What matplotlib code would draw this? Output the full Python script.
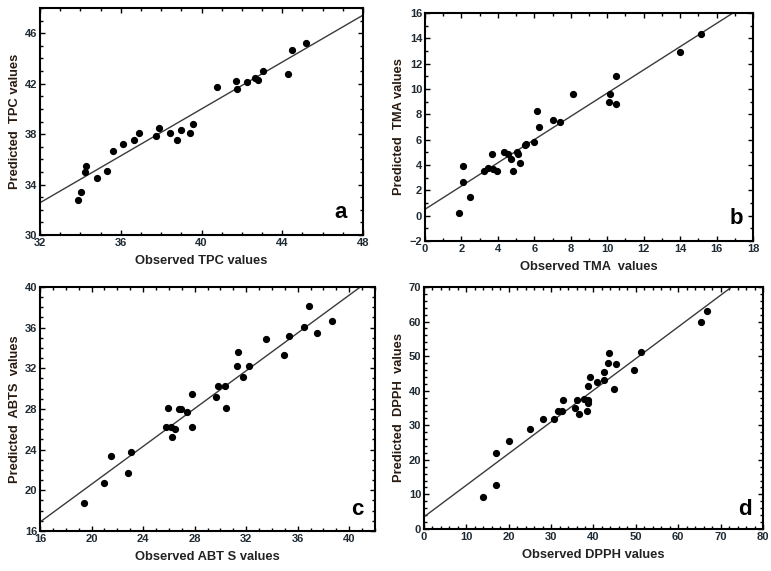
import numpy as np
import matplotlib
matplotlib.use("Agg")
import matplotlib.pyplot as plt
from matplotlib.ticker import MultipleLocator, FixedLocator

plt.rcParams["font.family"] = ["Liberation Sans", "DejaVu Sans"]
plt.rcParams["font.weight"] = "bold"

# ---- data ----
tpc_obs = [33.9, 34.05, 34.25, 34.27, 34.8, 35.3, 35.6, 36.1, 36.65, 36.9, 37.76, 37.87, 38.45,
           38.76, 38.99, 39.44, 39.56, 40.76, 41.7, 41.75, 42.26, 42.64, 42.8, 43.06, 44.3, 44.5, 45.15]
tpc_pred = [32.8, 33.4, 35.0, 35.5, 34.5, 35.05, 36.7, 37.2, 37.5, 38.1, 37.86, 38.5, 38.1,
            37.5, 38.3, 38.1, 38.8, 41.7, 42.25, 41.56, 42.14, 42.46, 42.28, 43.0, 42.8, 44.7, 45.26]

tma_obs = [1.86, 2.08, 2.08, 2.47, 3.24, 3.47, 3.69, 3.75, 3.97, 4.31, 4.53, 4.7, 4.81, 5.06, 5.08,
           5.21, 5.48, 5.57, 6.01, 6.14, 6.25, 7.04, 7.42, 8.14, 10.09, 10.13, 10.51, 10.51, 13.97, 15.17]
tma_pred = [0.17, 3.95, 2.63, 1.49, 3.53, 3.74, 4.85, 3.66, 3.53, 5.01, 4.85, 4.46, 3.5, 5.01, 4.85,
            4.14, 5.57, 5.67, 5.78, 8.29, 7.02, 7.55, 7.39, 9.64, 8.95, 9.64, 10.99, 8.82, 12.89, 14.35]

abts_obs = [19.38, 20.93, 21.52, 22.86, 23.09, 25.78, 25.9, 26.16, 26.21, 26.47, 26.78, 26.94, 27.43,
            27.79, 27.79, 29.62, 29.85, 30.37, 30.42, 31.32, 31.37, 31.73, 32.2, 33.54, 34.93, 35.32,
            36.45, 36.84, 37.49, 38.7]
abts_pred = [18.76, 20.67, 23.4, 21.69, 23.73, 26.26, 28.06, 26.26, 25.27, 26.03, 28.03, 28.03, 27.7,
             29.51, 26.26, 29.18, 30.3, 30.27, 28.06, 32.2, 33.65, 31.15, 32.2, 34.9, 33.3, 35.2,
             36.09, 38.09, 35.43, 36.68]

dpph_obs = [13.95, 17.1, 17.1, 20.1, 25.1, 28.2, 30.65, 31.6, 32.6, 32.8, 35.6, 36.2, 36.6, 37.8, 38.4,
            38.6, 38.7, 38.8, 39.24, 40.9, 42.5, 42.6, 43.4, 43.7, 44.9, 45.3, 49.6, 51.1, 65.4, 66.8]
dpph_pred = [9.26, 12.7, 21.99, 25.46, 28.8, 31.9, 31.8, 34.2, 34.2, 37.2, 34.9, 37.2, 33.4, 37.7, 34.2,
             37.3, 36.5, 41.3, 43.9, 42.4, 43.0, 45.5, 48.0, 51.0, 40.4, 47.6, 46.1, 51.1, 59.9, 63.1]

# fitted line (slope, intercept) as drawn in each panel
fit_tpc = (0.93, 2.8)
fit_tma = (0.917, 0.5)
fit_abts = (0.93, 2.0)
fit_dpph = (0.916, 3.5)

# labelled tick values
tpc_xticks = [32, 36, 40, 44, 48]
tpc_yticks = [30, 34, 38, 42, 46]
tma_xticks = list(range(0, 19, 2))
tma_yticks = list(range(-2, 17, 2))
abts_xticks = [16, 20, 24, 28, 32, 36, 40]
abts_yticks = [16, 20, 24, 28, 32, 36, 40]
dpph_xticks = list(range(0, 81, 10))
dpph_yticks = list(range(0, 71, 10))

panels = [
    ([0.0519, 0.5884, 0.419, 0.3975], tpc_obs, tpc_pred, fit_tpc, (32, 48), (30, 48),
     tpc_xticks, tpc_yticks, 1, 1, "Observed TPC values", "Predicted  TPC values", "a", (0.93, 0.10)),
    ([0.5512, 0.578, 0.4254, 0.3993], tma_obs, tma_pred, fit_tma, (0, 18), (-2, 16),
     tma_xticks, tma_yticks, 1, 1, "Observed TMA  values", "Predicted  TMA values", "b", (0.95, 0.10)),
    ([0.0519, 0.0701, 0.4345, 0.4273], abts_obs, abts_pred, fit_abts, (16, 42), (16, 40),
     abts_xticks, abts_yticks, 1, 1, "Observed ABT S values", "Predicted  ABTS  values", "c", (0.946, 0.086)),
    ([0.5499, 0.0736, 0.4397, 0.4238], dpph_obs, dpph_pred, fit_dpph, (0, 80), (0, 70),
     dpph_xticks, dpph_yticks, 2, 2, "Observed DPPH values", "Predicted  DPPH  values", "d", (0.947, 0.08)),
]

fig = plt.figure(figsize=(7.71, 5.71), dpi=100)
for rect, xs, ys, fit, xl, yl, xt, yt, xmn, ymn, xlab, ylab, let, lpos in panels:
    ax = fig.add_axes(rect)
    ax.plot(xs, ys, "o", color="black", ms=4.2, mec="black", zorder=3)
    lx = np.array(xl, dtype=float)
    ax.plot(lx, fit[0] * lx + fit[1], color="#3a3a3a", lw=1.0)
    ax.set_xlim(*xl)
    ax.set_ylim(*yl)
    ax.xaxis.set_major_locator(FixedLocator(xt))
    ax.yaxis.set_major_locator(FixedLocator(yt))
    ax.xaxis.set_minor_locator(MultipleLocator(xmn))
    ax.yaxis.set_minor_locator(MultipleLocator(ymn))
    ax.tick_params(which="both", direction="in", top=True, right=True, labelsize=8,
                   colors="black", width=1.0)
    ax.tick_params(which="major", length=3.5, pad=2)
    ax.tick_params(which="minor", length=2)
    for lbl in ax.get_xticklabels() + ax.get_yticklabels():
        lbl.set_fontweight("bold")
        lbl.set_color("#1f2a33")
    for sp in ax.spines.values():
        sp.set_linewidth(1.5)
    ax.set_xlabel(xlab, fontsize=9.3, fontweight="bold", color="#222222", labelpad=5)
    ax.set_ylabel(ylab, fontsize=9.3, fontweight="bold", color="#2a1a10", labelpad=3)
    ax.text(lpos[0], lpos[1], let, transform=ax.transAxes, ha="center", va="center",
            fontsize=16, fontweight="bold")

plt.savefig("out.png", dpi=100)
